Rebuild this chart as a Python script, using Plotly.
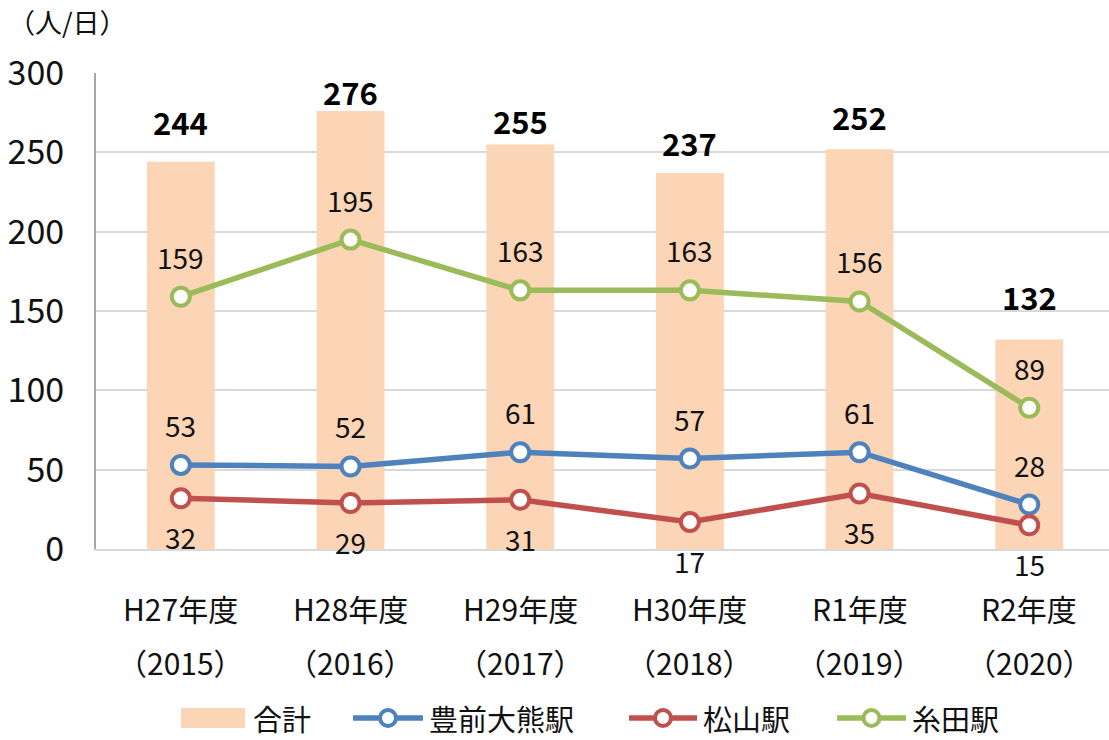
import plotly.graph_objects as go

categories = ["H27年度", "H28年度", "H29年度", "H30年度", "R1年度", "R2年度"]
years = ["（2015）", "（2016）", "（2017）", "（2018）", "（2019）", "（2020）"]
total = [244, 276, 255, 237, 252, 132]
buzen_okuma = [53, 52, 61, 57, 61, 28]
matsuyama = [32, 29, 31, 17, 35, 15]
itoda = [159, 195, 163, 163, 156, 89]

FONT = "Noto Sans CJK JP, Noto Sans, sans-serif"
TXT = "#111111"
BAR_COL = "#FBD5B5"
x = list(range(len(categories)))
total_shift = [40, 20, 24, 30, 33, 43]

# plot area in pixels
L, R, T, B = 96, 0, 73, 191
W, H = 1109, 740
PW, PH = W - L - R, H - T - B


def px_x(p):
    return (p - L) / PW


def px_y(p):
    return (H - B - p) / PH


fig = go.Figure()
fig.add_trace(go.Bar(x=x, y=total, name="合計", marker=dict(color=BAR_COL, line=dict(width=0)),
                     width=0.4, showlegend=False))
series = [("豊前大熊駅", buzen_okuma, "#4F81BD", 40),
          ("松山駅", matsuyama, "#C0504D", -39),
          ("糸田駅", itoda, "#9BBB59", 40)]
for name, vals, col, sh in series:
    fig.add_trace(go.Scatter(x=x, y=vals, name=name, mode="lines+markers", showlegend=False,
                             line=dict(color=col, width=5.5),
                             marker=dict(size=18, color="white", line=dict(color=col, width=4))))

ann = []
for i, v in enumerate(total):
    ann.append(dict(x=i, y=v, text=f"<b>{v}</b>", showarrow=False, yshift=total_shift[i],
                    yanchor="middle", font=dict(size=31, color="black", family=FONT)))
for name, vals, col, sh in series:
    for i, v in enumerate(vals):
        ann.append(dict(x=i, y=v, text=str(v), showarrow=False, yshift=sh, yanchor="middle",
                        font=dict(size=28, color=TXT, family=FONT)))
for i in x:
    ann.append(dict(x=i, xref="x", y=px_y(608), yref="paper", yanchor="middle", text=categories[i],
                    showarrow=False, font=dict(size=30, color=TXT, family=FONT)))
    ann.append(dict(x=i, xref="x", y=px_y(662), yref="paper", yanchor="middle", text=years[i],
                    showarrow=False, font=dict(size=30, color=TXT, family=FONT)))
ann.append(dict(x=px_x(6), xref="paper", y=px_y(22), yref="paper", xanchor="left", yanchor="middle",
                text="（人/日）", showarrow=False, font=dict(size=27, color=TXT, family=FONT)))

# custom legend
shapes = []
LY = 718
legend_items = [("合計", None, 181, 245, 252),
                ("豊前大熊駅", "#4F81BD", 353, 423, 428),
                ("松山駅", "#C0504D", 629, 697, 702),
                ("糸田駅", "#9BBB59", 837, 906, 911)]
for label, col, x0, x1, tx in legend_items:
    if col is None:
        shapes.append(dict(type="rect", xref="paper", yref="paper", x0=px_x(x0), x1=px_x(x1),
                           y0=px_y(LY + 10), y1=px_y(LY - 10), fillcolor=BAR_COL, line=dict(width=0)))
    else:
        shapes.append(dict(type="line", xref="paper", yref="paper", x0=px_x(x0), x1=px_x(x1),
                           y0=px_y(LY), y1=px_y(LY), line=dict(color=col, width=5.5)))
        cx = (x0 + x1) / 2
        shapes.append(dict(type="circle", xref="paper", yref="paper", x0=px_x(cx - 8), x1=px_x(cx + 8),
                           y0=px_y(LY + 8), y1=px_y(LY - 8), fillcolor="white", line=dict(color=col, width=4)))
    ann.append(dict(x=px_x(tx), xref="paper", y=px_y(LY), yref="paper", xanchor="left", yanchor="middle",
                    text=label, showarrow=False, borderpad=0,
                    font=dict(size=29, color=TXT, family=FONT)))

fig.update_layout(
    width=W, height=H,
    margin=dict(l=L, r=R, t=T, b=B, autoexpand=False),
    plot_bgcolor="white", paper_bgcolor="white",
    font=dict(family=FONT, size=24, color=TXT),
    showlegend=False,
    annotations=ann,
    shapes=shapes,
)
fig.update_xaxes(range=[-0.5, 5.47], showticklabels=False, showgrid=False, automargin=False,
                 showline=True, linecolor="#D9D9D9", linewidth=2, zeroline=False)
fig.update_yaxes(range=[0, 300], dtick=50, showgrid=True, gridcolor="#D9D9D9", gridwidth=2,
                 showline=True, linecolor="#A6A6A6", linewidth=2, zeroline=False, automargin=False,
                 tickfont=dict(size=34, family=FONT, color=TXT), ticks="outside",
                 ticklen=0, ticklabelstandoff=23)
fig.write_html("out.html", config={"displayModeBar": False},
               post_script="document.body.style.margin='0';document.body.style.overflow='hidden';")
